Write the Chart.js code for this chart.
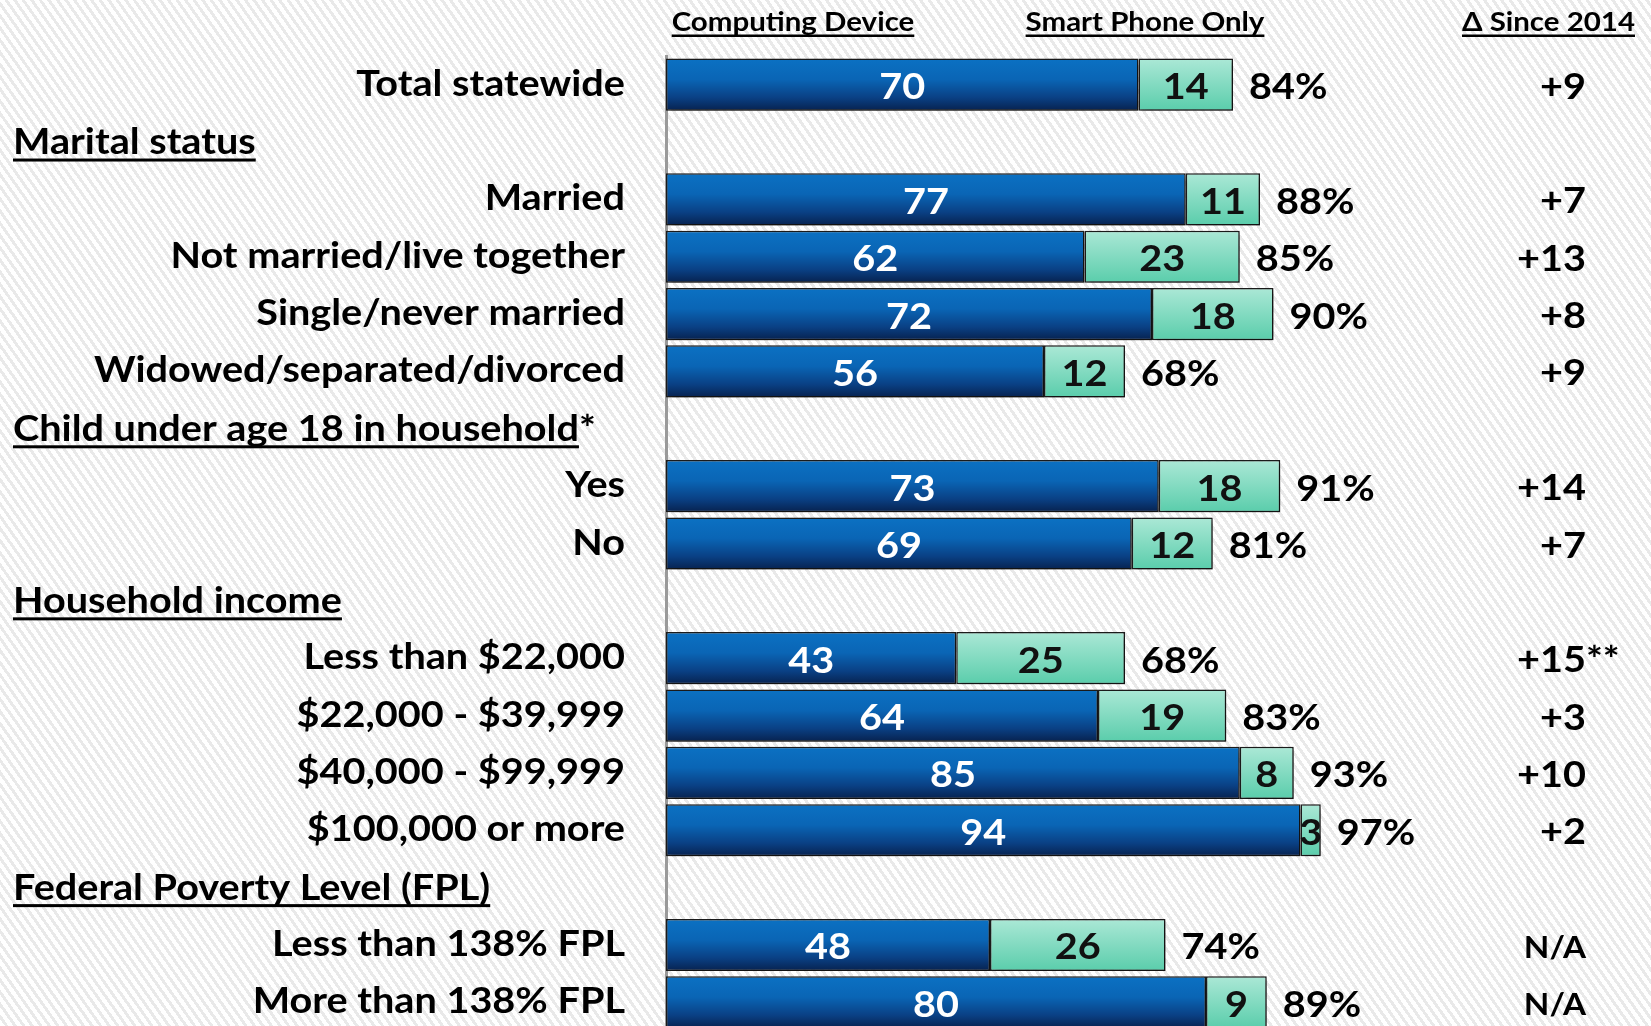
<!DOCTYPE html>
<html>
<head>
<meta charset="utf-8">
<script src="https://cdn.jsdelivr.net/npm/chart.js@4.4.1/dist/chart.umd.min.js"></script>
<style>
  html, body { margin: 0; padding: 0; overflow: hidden; }
  body {
    width: 1651px;
    height: 1026px;
    background: repeating-linear-gradient(55deg, #ffffff 0px, #ffffff 4px, #e9e9e9 4px, #e9e9e9 7px);
  }
  #chart { display: block; }
</style>
</head>
<body>
<canvas id="chart" width="1651" height="1031"></canvas>
<script>
const categories = [
  'Total statewide',
  'Marital status',
  'Married',
  'Not married/live together',
  'Single/never married',
  'Widowed/separated/divorced',
  'Child under age 18 in household*',
  'Yes',
  'No',
  'Household income',
  'Less than $22,000',
  '$22,000 - $39,999',
  '$40,000 - $99,999',
  '$100,000 or more',
  'Federal Poverty Level (FPL)',
  'Less than 138% FPL',
  'More than 138% FPL'
];
const sectionHeaders = ['Marital status', 'Child under age 18 in household*', 'Household income', 'Federal Poverty Level (FPL)'];
const computingDevice = [70, null, 77, 62, 72, 56, null, 73, 69, null, 43, 64, 85, 94, null, 48, 80];
const smartPhoneOnly = [14, null, 11, 23, 18, 12, null, 18, 12, null, 25, 19, 8, 3, null, 26, 9];
const totalLabels = ['84%', '', '88%', '85%', '90%', '68%', '', '91%', '81%', '', '68%', '83%', '93%', '97%', '', '74%', '89%'];
const sinceLabels = ['+9', '', '+7', '+13', '+8', '+9', '', '+14', '+7', '', '+15**', '+3', '+10', '+2', '', 'N/A', 'N/A'];
const columnHeaders = ['Computing Device', 'Smart Phone Only', '\u0394 Since 2014'];

const FONT = 'Lato, "Open Sans", sans-serif';
let squeeze = null;

// bars get a vertical gradient, like the office-style chart
const barGradient = (stops, fallback) => (c) => {
  const y = c.chart.scales.y;
  if (!y) return fallback;
  const yc = y.getPixelForValue(c.dataIndex);
  if (!isFinite(yc)) return fallback;
  const half = 26;
  const g = c.chart.ctx.createLinearGradient(0, yc - half, 0, yc + half);
  stops.forEach(([p, col]) => g.addColorStop(p, col));
  return g;
};

const blueFill = barGradient([[0, '#0b71c3'], [0.4, '#0a65b5'], [0.75, '#0a4084'], [1, '#07224f']], '#0a4f98');
const greenFill = barGradient([[0, '#abe8d6'], [1, '#5acdab']], '#7fdabf');

const drawText = (ctx, str, x, y, size, align, color) => {
  ctx.save();
  ctx.font = `bold ${size}px ${FONT}`;
  ctx.fillStyle = color;
  ctx.textAlign = align;
  ctx.textBaseline = 'alphabetic';
  ctx.translate(x, y);
  ctx.scale(squeeze, 1);
  ctx.fillText(str, 0, 0);
  const w = ctx.measureText(str).width * squeeze;
  ctx.restore();
  return w;
};

const underline = (ctx, x1, x2, y, width) => {
  ctx.save();
  ctx.fillStyle = '#000';
  ctx.fillRect(x1, y, x2 - x1, width);
  ctx.restore();
};

const textPlugin = {
  id: 'textPlugin',
  beforeDatasetsDraw(chart) {
    const ctx = chart.ctx;
    ctx.save();
    ctx.shadowColor = 'rgba(0,0,0,0.45)';
    ctx.shadowBlur = 6;
    ctx.shadowOffsetX = 3;
    ctx.shadowOffsetY = 3;
  },
  afterDatasetsDraw(chart) {
    chart.ctx.restore();
  },
  afterDraw(chart) {
    const { ctx, scales: { x, y } } = chart;
    if (squeeze === null) {
      ctx.save();
      ctx.font = `bold 37px ${FONT}`;
      squeeze = 531 / ctx.measureText('Widowed/separated/divorced').width;
      ctx.restore();
    }

    // column headers
    let w = drawText(ctx, columnHeaders[0], 793, 31, 27.5, 'center', '#000');
    underline(ctx, 793 - w / 2, 793 + w / 2, 34.5, 2.5);
    w = drawText(ctx, columnHeaders[1], 1145, 31, 27.5, 'center', '#000');
    underline(ctx, 1145 - w / 2, 1145 + w / 2, 34.5, 2.5);
    w = drawText(ctx, columnHeaders[2], 1635, 31, 27.5, 'right', '#000');
    underline(ctx, 1635 - w, 1635, 34.5, 2.5);

    categories.forEach((cat, i) => {
      const yc = y.getPixelForValue(i);
      if (sectionHeaders.includes(cat)) {
        drawText(ctx, cat, 13, yc + 12, 37, 'left', '#000');
        ctx.save();
        ctx.font = `bold 37px ${FONT}`;
        const uw = ctx.measureText(cat.replace(/\*$/, '')).width * squeeze;
        ctx.restore();
        underline(ctx, 13, 13 + uw, yc + 16.5, 3);
        return;
      }
      drawText(ctx, cat, 625, yc + 11, 37, 'right', '#000');

      const a = computingDevice[i];
      const b = smartPhoneOnly[i];
      drawText(ctx, String(a), x.getPixelForValue(a / 2), yc + 14.5, 37, 'center', '#ffffff');
      drawText(ctx, String(b), x.getPixelForValue(a + b / 2), yc + 14.5, 37, 'center', '#111111');
      drawText(ctx, totalLabels[i], x.getPixelForValue(a + b) + 16, yc + 14.5, 37, 'left', '#000');

      const d = sinceLabels[i];
      if (d === 'N/A') {
        drawText(ctx, d, 1586, yc + 13, 31, 'right', '#000');
      } else if (d.endsWith('**')) {
        drawText(ctx, d.slice(0, -2), 1586, yc + 14, 37, 'right', '#000');
        drawText(ctx, '**', 1586, yc + 14, 37, 'left', '#000');
      } else {
        drawText(ctx, d, 1586, yc + 14, 37, 'right', '#000');
      }
    });
  }
};

new Chart(document.getElementById('chart'), {
  type: 'bar',
  data: {
    labels: categories,
    datasets: [
      {
        label: 'Computing Device',
        data: computingDevice,
        backgroundColor: blueFill,
        borderColor: '#1c1c1c',
        borderWidth: 1.5,
        borderSkipped: false
      },
      {
        label: 'Smart Phone Only',
        data: smartPhoneOnly,
        backgroundColor: greenFill,
        borderColor: '#1c1c1c',
        borderWidth: 1.5,
        borderSkipped: false
      }
    ]
  },
  options: {
    indexAxis: 'y',
    responsive: false,
    animation: false,
    events: [],
    categoryPercentage: 1,
    barPercentage: 0.91,
    layout: { padding: { left: 666, right: 310, top: 56, bottom: 0 } },
    plugins: { legend: { display: false }, tooltip: { enabled: false } },
    scales: {
      x: { stacked: true, min: 0, max: 100, display: false },
      y: {
        stacked: true,
        ticks: { display: false },
        grid: { display: false, drawTicks: false },
        border: { display: true, color: '#9a9a9a', width: 3 }
      }
    }
  },
  plugins: [textPlugin]
});
</script>
</body>
</html>
